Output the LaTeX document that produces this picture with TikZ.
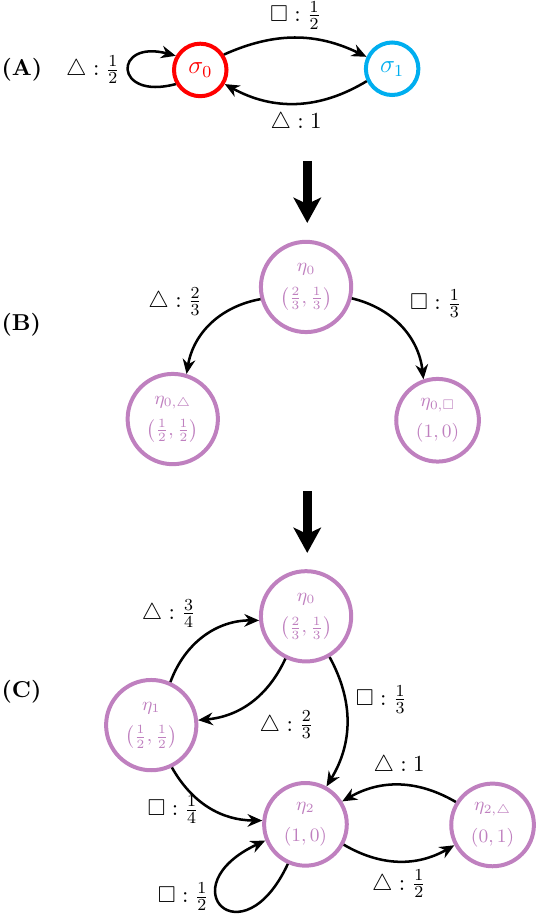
\documentclass[tikz,border=0pt,11pt]{standalone}
\usepackage{amsmath,amssymb}
\usetikzlibrary{arrows.meta}
\definecolor{sigcyan}{RGB}{0,174,239}
\definecolor{beliefc}{RGB}{191,128,191}

\begin{document}
\begin{tikzpicture}[
	state/.style={circle, draw, line width=1.9pt, minimum size=25pt, font=\large},
	belief/.style={circle, draw=beliefc, text=beliefc, line width=1.9pt, font=\footnotesize, align=center, inner sep=3.5pt},
	arr/.style={-{Stealth[length=7pt,width=6pt]}, line width=1.2pt},
	big/.style={line width=4.3pt, -{Stealth[length=12pt,width=13pt,inset=3pt]}},
	panel/.style={anchor=west, inner sep=0pt, font=\bfseries}]
	\useasboundingbox (0,0) rectangle (8.97,-15.29);
	% (A) the automaton
	\node[panel] (la) at (0.02,-1.17) {(A)};
	\node[state, draw=red, text=red] (s0) at (3.35,-1.17) {$\sigma_0$};
	\node[state, draw=sigcyan, text=sigcyan] (s1) at (6.56,-1.15) {$\sigma_1$};
	\draw[arr] (s0.33) to[bend left=25] node[above] {$\square : \frac{1}{2}$} (s1.155);
	\draw[arr] (s1.206) to[bend left=30] node[below] {$\triangle : 1$} (s0.330);
	\draw[arr] (s0.210) to[out=195, in=165, looseness=5.9] node[left] {$\triangle : \frac{1}{2}$} (s0.150);
	\coordinate (t1) at (5.14,-2.69);
	\coordinate (h1) at (5.14,-3.73);
	\draw[big] (t1) -- (h1);
	% (B) one step of beliefs
	\node[panel] (lb) at (0.02,-5.44) {(B)};
	\node[belief] (b0) at (5.12,-4.80) {$\eta_0$\\[4pt]$\left(\frac{2}{3},\frac{1}{3}\right)$};
	\node[belief] (bt) at (2.89,-7.01) {$\eta_{0,\triangle}$\\[4pt]$\left(\frac{1}{2},\frac{1}{2}\right)$};
	\node[belief] (bs) at (7.32,-7.03) {$\eta_{0,\square}$\\[4pt]$(1,0)$};
	\draw[arr] (b0.195) to[bend right=35] node[above left] {$\triangle : \frac{2}{3}$} (bt.73);
	\draw[arr] (b0.346) to[bend left=35] node[above right] {$\square : \frac{1}{3}$} (bs.109);
	\coordinate (t2) at (5.14,-8.22);
	\coordinate (h2) at (5.14,-9.25);
	\draw[big] (t2) -- (h2);
	% (C) the belief automaton
	\node[panel] (lc) at (0.02,-11.58) {(C)};
	\node[belief] (e0) at (5.12,-10.31) {$\eta_0$\\[4pt]$\left(\frac{2}{3},\frac{1}{3}\right)$};
	\node[belief] (e1) at (2.53,-12.13) {$\eta_1$\\[4pt]$\left(\frac{1}{2},\frac{1}{2}\right)$};
	\node[belief] (e2) at (5.11,-13.79) {$\eta_2$\\[4pt]$(1,0)$};
	\node[belief] (e3) at (8.24,-13.80) {$\eta_{2,\triangle}$\\[4pt]$(0,1)$};
	\draw[arr] (e1.66) to[bend left=35] node[above left] {$\triangle : \frac{3}{4}$} (e0.185);
	\draw[arr] (e0.244) to[bend left=30] node[below right] {$\triangle : \frac{2}{3}$} (e1.6);
	\draw[arr] (e0.300) to[bend left=30] node[above right] {$\square : \frac{1}{3}$} (e2.61);
	\draw[arr] (e1.296) to[bend right=30] node[left, pos=0.55, xshift=-3pt] {$\square : \frac{1}{4}$} (e2.175);
	\draw[arr] (e3.148) to[bend right=30] node[above] {$\triangle : 1$} (e2.32);
	\draw[arr] (e2.332) to[bend right=30] node[below] {$\triangle : \frac{1}{2}$} (e3.208);
	\draw[arr] (e2.246) to[out=245, in=205, looseness=8.5] node[left, pos=0.6] {$\square : \frac{1}{2}$} (e2.202);
\end{tikzpicture}
\end{document}
